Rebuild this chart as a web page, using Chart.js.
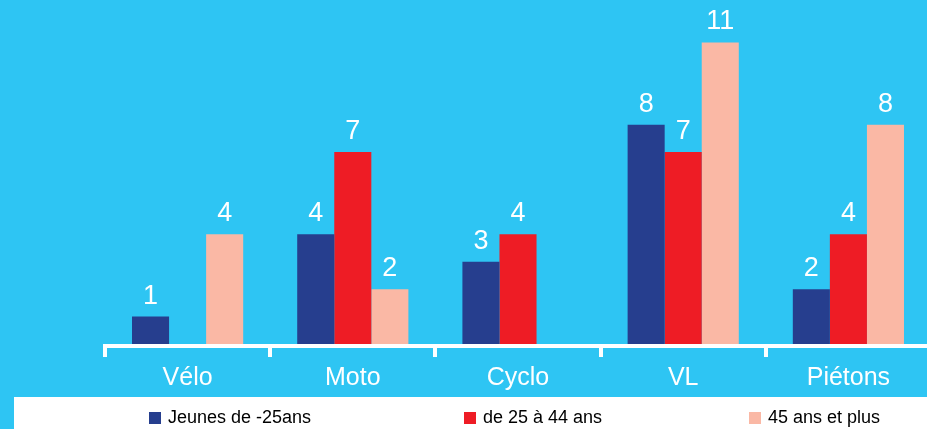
<!DOCTYPE html>
<html>
<head>
<meta charset="utf-8">
<script src="https://cdn.jsdelivr.net/npm/chart.js@4"></script>
<style>
html,body{margin:0;padding:0;background:#2EC5F3;overflow:hidden;}
#wrap{width:927px;height:429px;position:relative;overflow:hidden;}
canvas{position:absolute;left:0;top:0;}
</style>
</head>
<body>
<div id="wrap"><canvas id="c" width="931" height="429"></canvas></div>
<script>
const categories = ["Vélo", "Moto", "Cyclo", "VL", "Piétons"];
const seriesNames = ["Jeunes de -25ans", "de 25 à 44 ans", "45 ans et plus"];
const jeunes = [1, 4, 3, 8, 2];
const adultes = [null, 7, 4, 7, 4];
const seniors = [4, 2, null, 11, 8];
const colors = ["#263E8E", "#EE1C25", "#FAB8A5"];
const legendX = [149, 464, 749];

const FONT = "'Liberation Sans', Arial, sans-serif";

const bgPlugin = {
  id: 'bg',
  beforeDraw(chart) {
    const ctx = chart.ctx;
    ctx.save();
    ctx.fillStyle = '#2EC5F3';
    ctx.fillRect(0, 0, chart.width, chart.height);
    // legend box
    ctx.fillStyle = '#FFFFFF';
    ctx.fillRect(14, 397, chart.width - 14, chart.height - 397);
    ctx.font = "18px " + FONT;
    ctx.textBaseline = 'middle';
    ctx.textAlign = 'left';
    chart.data.datasets.forEach((ds, i) => {
      ctx.fillStyle = ds.backgroundColor;
      ctx.fillRect(legendX[i], 412, 12, 12);
      ctx.fillStyle = '#000000';
      ctx.fillText(ds.label, legendX[i] + 19, 418);
    });
    ctx.restore();
  }
};

const valuePlugin = {
  id: 'values',
  afterDatasetsDraw(chart) {
    const ctx = chart.ctx;
    ctx.save();
    ctx.font = "27px " + FONT;
    ctx.fillStyle = '#FFFFFF';
    ctx.textAlign = 'center';
    ctx.textBaseline = 'alphabetic';
    chart.data.datasets.forEach((ds, i) => {
      const meta = chart.getDatasetMeta(i);
      meta.data.forEach((bar, j) => {
        const v = ds.data[j];
        if (v === null || v === undefined) return;
        ctx.fillText(String(v), bar.x, bar.y - 13);
      });
    });
    ctx.restore();
  }
};

new Chart(document.getElementById('c'), {
  type: 'bar',
  data: {
    labels: categories,
    datasets: [
      { label: seriesNames[0], data: jeunes, backgroundColor: colors[0] },
      { label: seriesNames[1], data: adultes, backgroundColor: colors[1] },
      { label: seriesNames[2], data: seniors, backgroundColor: colors[2] }
    ]
  },
  options: {
    responsive: false,
    animation: false,
    devicePixelRatio: 1,
    layout: { padding: { left: 105, right: 0, top: 15, bottom: 30 } },
    plugins: { legend: { display: false }, tooltip: { enabled: false } },
    datasets: { bar: { categoryPercentage: 0.673, barPercentage: 1.0 } },
    scales: {
      x: {
        offset: true,
        border: { display: true, color: '#FFFFFF', width: 4 },
        grid: { display: true, offset: true, drawOnChartArea: false, drawTicks: true, tickLength: 11, color: '#FFFFFF', lineWidth: 4 },
        ticks: { color: '#FFFFFF', font: { family: FONT, size: 25 }, padding: 6 }
      },
      y: {
        display: false,
        min: -0.073,
        max: 12
      }
    }
  },
  plugins: [bgPlugin, valuePlugin]
});
</script>
</body>
</html>
